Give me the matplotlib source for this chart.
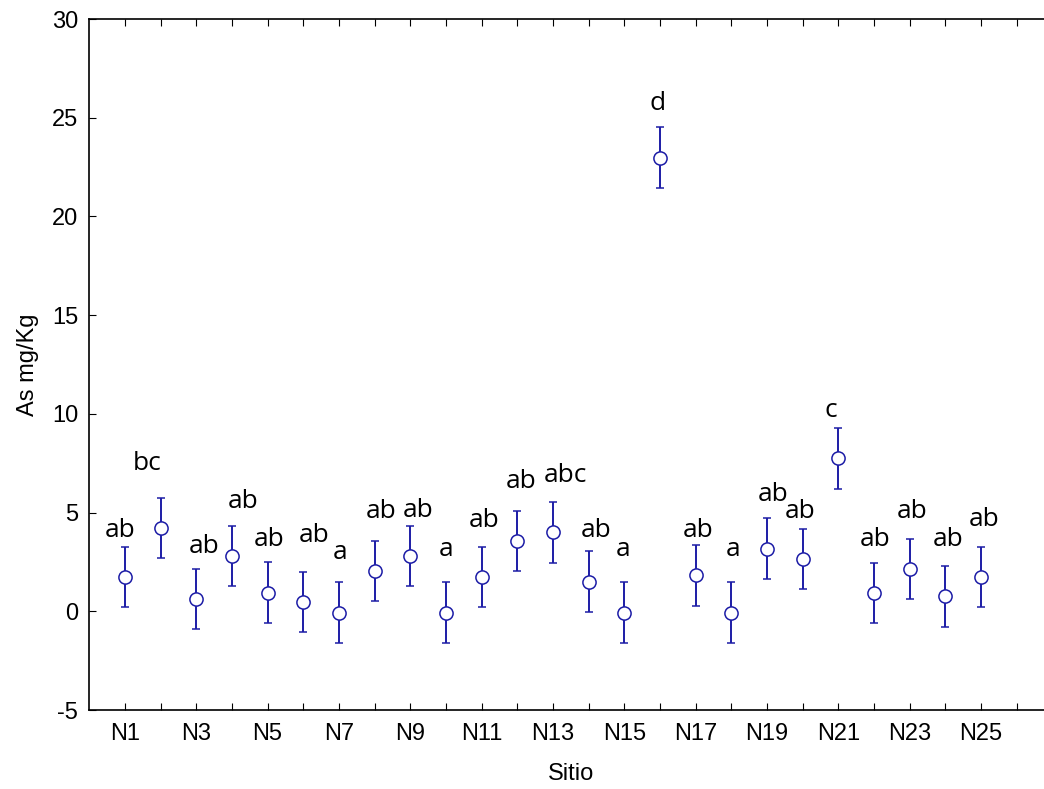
import numpy as np
import matplotlib.pyplot as plt

plt.rcParams['font.family'] = ['Liberation Sans', 'DejaVu Sans']
plt.rcParams['axes.unicode_minus'] = False

sitios = ['N%d' % i for i in range(1, 26)]
media = [1.74, 4.22, 0.61, 2.80, 0.95, 0.48, -0.07, 2.04, 2.79, -0.07,
         1.74, 3.55, 4.00, 1.50, -0.07, 22.98, 1.82, -0.07, 3.18, 2.65,
         7.75, 0.93, 2.13, 0.76, 1.74]
error = [1.53] * 25
letras = ['ab', 'bc', 'ab', 'ab', 'ab', 'ab', 'a', 'ab', 'ab', 'a',
          'ab', 'ab', 'abc', 'ab', 'a', 'd', 'ab', 'a', 'ab', 'ab',
          'c', 'ab', 'ab', 'ab', 'ab']
# posicion de las letras (y en mg/Kg, desplazamiento x en unidades de sitio)
letras_y = [4.10, 7.48, 3.27, 5.54, 3.63, 3.85, 2.96, 5.03, 5.13, 3.13,
            4.61, 6.55, 6.89, 4.10, 3.13, 25.72, 4.10, 3.13, 5.94, 5.03,
            10.18, 3.63, 5.08, 3.63, 4.64]
letras_dx = [-0.14, -0.39, 0.22, 0.31, 0.03, 0.31, 0.03, 0.17, 0.22, 0.0,
             0.06, 0.10, 0.34, 0.20, -0.04, -0.07, 0.06, 0.05, 0.17, -0.08,
             -0.22, 0.03, 0.06, 0.07, 0.10]

x = np.arange(1, len(sitios) + 1)
color = '#1c1ca6'

fig = plt.figure(figsize=(10.44, 7.89), dpi=100)
ax = fig.add_axes([0.0855, 0.1001, 0.9225, 0.8758])

ax.errorbar(x, media, yerr=error, fmt='o', color=color, ecolor=color,
            markerfacecolor='white', markeredgecolor=color, markersize=9.5,
            markeredgewidth=1.1, elinewidth=1.4, capsize=2.8, capthick=1.1)

for xi, yi, t, dx in zip(x, letras_y, letras, letras_dx):
    ax.text(xi + dx, yi, t, ha='center', va='center', fontsize=19,
            family=['Open Sans', 'DejaVu Sans'], color='black')

ax.set_xlim(0, 27)
ax.set_ylim(-5, 30)
ax.set_xticks(np.arange(1, 27))
ax.set_xticklabels([s if i % 2 == 0 else '' for i, s in enumerate(sitios)] + [''])
ax.set_yticks(np.arange(-5, 31, 5))
ax.tick_params(axis='x', direction='in', top=True, length=5, labelsize=17, pad=9)
ax.tick_params(axis='y', direction='in', right=True, length=5, labelsize=17, pad=8)
for s in ax.spines.values():
    s.set_linewidth(1.2)

ax.set_xlabel('Sitio', fontsize=17, labelpad=13)
ax.set_ylabel('As mg/Kg', fontsize=17, labelpad=9)

fig.savefig('out.png', dpi=100)
